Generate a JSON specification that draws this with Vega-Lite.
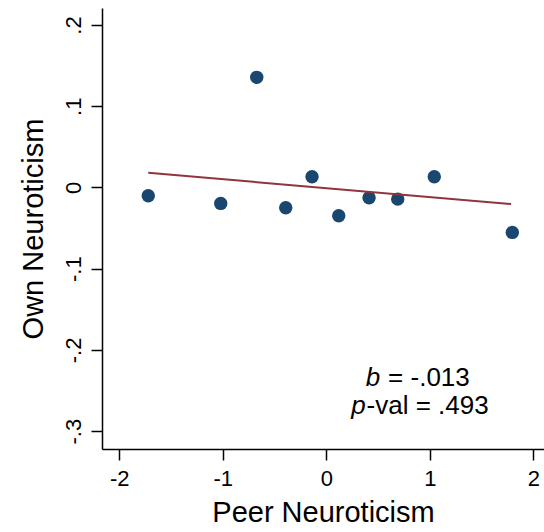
{
  "$schema": "https://vega.github.io/schema/vega-lite/v6.json",
  "width": 442,
  "height": 441,
  "autosize": "none",
  "padding": {"left": 102, "top": 8, "right": 0, "bottom": 83},
  "background": "white",
  "config": {
    "view": {"stroke": null},
    "font": "Liberation Sans",
    "axis": {
      "grid": false,
      "domainColor": "#000000",
      "domainWidth": 1.5,
      "tickColor": "#000000",
      "tickWidth": 1.5,
      "tickSize": 11,
      "labelFont": "Liberation Sans",
      "labelFontSize": 22,
      "labelColor": "#000000",
      "titleFont": "Liberation Sans",
      "titleFontSize": 29,
      "titleFontWeight": "normal",
      "titleColor": "#000000"
    }
  },
  "layer": [
    {
      "data": {
        "values": [
          {"peer": -1.720, "own": -0.0102},
          {"peer": -1.020, "own": -0.0196},
          {"peer": -0.672, "own": 0.1356},
          {"peer": -0.392, "own": -0.0250},
          {"peer": -0.138, "own": 0.0132},
          {"peer": 0.120, "own": -0.0349},
          {"peer": 0.413, "own": -0.0127},
          {"peer": 0.690, "own": -0.0143},
          {"peer": 1.043, "own": 0.0132},
          {"peer": 1.797, "own": -0.0553}
        ]
      },
      "mark": {"type": "circle", "size": 180, "opacity": 1, "color": "#1a476f"},
      "encoding": {
        "x": {
          "field": "peer",
          "type": "quantitative",
          "title": "Peer Neuroticism",
          "scale": {"domain": [-2.167, 2.103], "nice": false, "zero": false},
          "axis": {
            "values": [-2, -1, 0, 1, 2],
            "labelExpr": "datum.value < 0 ? '-' + abs(datum.value) : '' + datum.value",
            "labelPadding": 8,
            "titlePadding": 9
          }
        },
        "y": {
          "field": "own",
          "type": "quantitative",
          "title": "Own Neuroticism",
          "scale": {"domain": [-0.322, 0.221], "nice": false, "zero": false},
          "axis": {
            "values": [-0.3, -0.2, -0.1, 0, 0.1, 0.2],
            "labelExpr": "datum.value > 0.15 ? '.2' : datum.value > 0.05 ? '.1' : datum.value > -0.05 ? '0' : datum.value > -0.15 ? '-.1' : datum.value > -0.25 ? '-.2' : '-.3'",
            "labelAngle": -90,
            "labelAlign": "center",
            "labelBaseline": "bottom",
            "labelPadding": 6,
            "titlePadding": 14
          }
        }
      }
    },
    {
      "data": {"values": [{"peer": -1.720, "own": 0.0181}, {"peer": 1.785, "own": -0.0204}]},
      "mark": {"type": "line", "color": "#90353b", "strokeWidth": 2},
      "encoding": {
        "x": {"field": "peer", "type": "quantitative"},
        "y": {"field": "own", "type": "quantitative"}
      }
    },
    {
      "data": {"values": [{"peer": 0.52, "own": -0.2446, "label": "b"}, {"peer": 0.380, "own": -0.279, "label": "p"}]},
      "mark": {"type": "text", "align": "right", "baseline": "alphabetic", "fontSize": 26, "fontStyle": "italic", "font": "Liberation Sans", "color": "#000000"},
      "encoding": {
        "x": {"field": "peer", "type": "quantitative"},
        "y": {"field": "own", "type": "quantitative"},
        "text": {"field": "label"}
      }
    },
    {
      "data": {"values": [{"peer": 0.597, "own": -0.2446, "label": "= -.013"}, {"peer": 0.389, "own": -0.279, "label": "-val = .493"}]},
      "mark": {"type": "text", "align": "left", "baseline": "alphabetic", "fontSize": 26, "font": "Liberation Sans", "color": "#000000"},
      "encoding": {
        "x": {"field": "peer", "type": "quantitative"},
        "y": {"field": "own", "type": "quantitative"},
        "text": {"field": "label"}
      }
    }
  ]
}
